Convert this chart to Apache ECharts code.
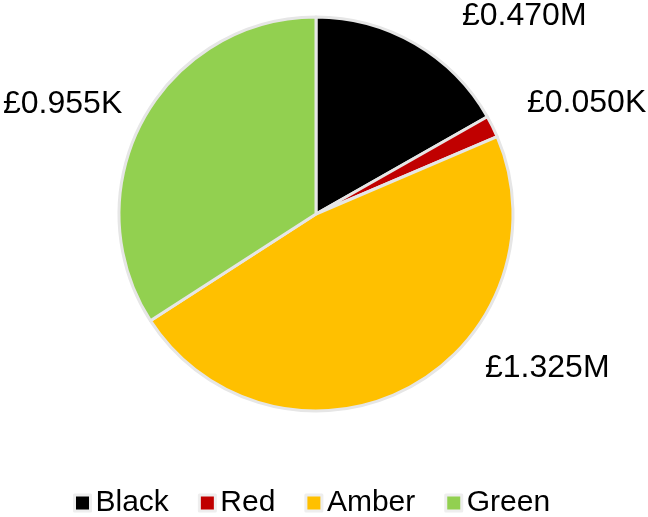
<!DOCTYPE html>
<html><head><meta charset="utf-8">
<script src="https://cdn.jsdelivr.net/npm/echarts@6/dist/echarts.min.js"></script>
<style>html,body{margin:0;padding:0;background:#fff}#c{width:648px;height:517px}</style>
</head><body><div id="c"></div>
<script>
const categories = ['Black', 'Red', 'Amber', 'Green'];
const values = [0.470, 0.050, 1.325, 0.955];
const labelTexts = ['£0.470M', '£0.050K', '£1.325M', '£0.955K'];
const colors = ['#000000', '#C00000', '#FFC000', '#92D050'];

// label placement (layout only): left edge x, vertical middle y
const labelAnchors = [[462, 16], [527, 103], [485, 368], [3, 104]];

const chart = echarts.init(document.getElementById('c'));
chart.setOption({
  animation: false,
  color: colors,
  legend: {
    top: 488,
    left: 73,
    padding: 0,
    icon: 'rect',
    itemWidth: 16,
    itemHeight: 16,
    itemGap: 29,
    itemStyle: { borderColor: '#eeeeee', borderWidth: 3 },
    textStyle: { fontFamily: 'Liberation Sans, Arial', fontSize: 30, color: '#000' },
    data: categories
  },
  series: [{
    type: 'pie',
    center: [316, 214],
    radius: 197,
    startAngle: 90,
    clockwise: true,
    itemStyle: { borderColor: '#e6e6e6', borderWidth: 3 },
    label: {
      show: true,
      position: 'outside',
      overflow: 'none',
      fontFamily: 'Liberation Sans, Arial',
      fontSize: 32,
      color: '#000',
      formatter: p => labelTexts[p.dataIndex]
    },
    labelLine: { show: false, length: 30, length2: 0 },
    labelLayout: p => ({
      x: labelAnchors[p.dataIndex][0],
      y: labelAnchors[p.dataIndex][1],
      align: 'left',
      verticalAlign: 'middle'
    }),
    data: categories.map((c, i) => ({ name: c, value: values[i] }))
  }]
});
</script></body></html>
